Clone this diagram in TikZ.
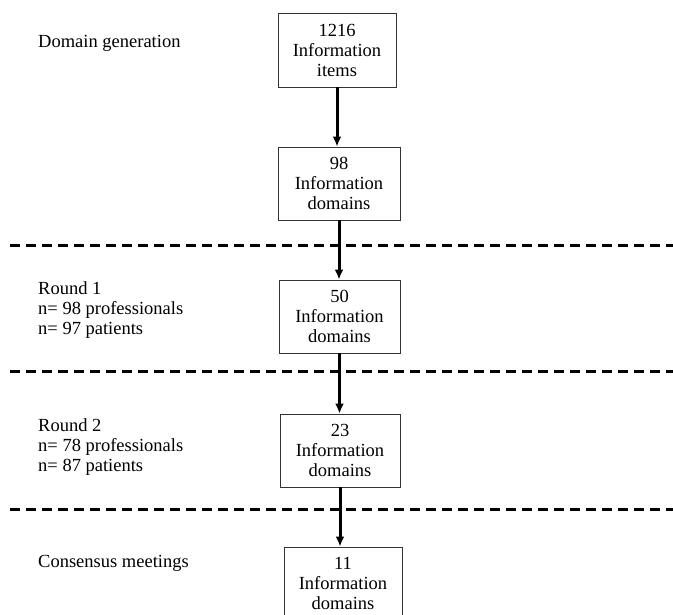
\documentclass[tikz,border=0pt]{standalone}
\usepackage{fontspec}
\setmainfont{Liberation Serif}
\usetikzlibrary{arrows.meta}

\begin{document}
\begin{tikzpicture}[x=1pt,y=-1pt,
		font=\fontsize{18.5}{20}\selectfont,
		stagebox/.style={draw=black!80,line width=0.9pt,align=center,inner sep=0pt,minimum width=120pt,minimum height=73pt},
		flow/.style={line width=3pt,-{Latex[length=10pt,width=9pt]}},
		cut/.style={line width=3pt,dash pattern=on 10pt off 6pt},
		phase/.style={anchor=west,align=left,inner sep=0pt}]
		\clip (0,0) rectangle (673,615);

		% boxes of the flow
		\node (items) at (337,50) [stagebox,minimum width=118pt,minimum height=74pt] {1216\\Information\\items};
		\node (dom98) at (339,183.5) [stagebox,minimum width=122pt] {98\\Information\\domains};
		\node (dom50) at (339.5,316.5) [stagebox,minimum width=121pt] {50\\Information\\domains};
		\node (dom23) at (340,450.5) [stagebox] {23\\Information\\domains};
		\node (dom11) at (343,583.5) [stagebox,minimum width=118pt] {11\\Information\\domains};

		\draw [flow] (items.south) -- (items.south |- dom98.north);
		\draw [flow] (dom98.south) -- (dom98.south |- dom50.north);
		\draw [flow] (dom50.south) -- (dom50.south |- dom23.north);
		\draw [flow] (dom23.south) -- (dom23.south |- dom11.north);

		% phases on the left
		\node (gen) at (38,43) [phase] {Domain generation};
		\node (rnd1) at (38,310) [phase] {Round 1\\n= 98 professionals\\n= 97 patients};
		\node (rnd2) at (38,447) [phase] {Round 2\\n= 78 professionals\\n= 87 patients};
		\node (cons) at (38,563) [phase] {Consensus meetings};

		% dashed separators
		\coordinate (s1a) at (10,246); \coordinate (s1b) at (673,246);
		\coordinate (s2a) at (10,371); \coordinate (s2b) at (673,371);
		\coordinate (s3a) at (10,509); \coordinate (s3b) at (673,509);
		\draw [cut] (s1a) -- (s1b);
		\draw [cut] (s2a) -- (s2b);
		\draw [cut] (s3a) -- (s3b);
	\end{tikzpicture}
\end{document}
